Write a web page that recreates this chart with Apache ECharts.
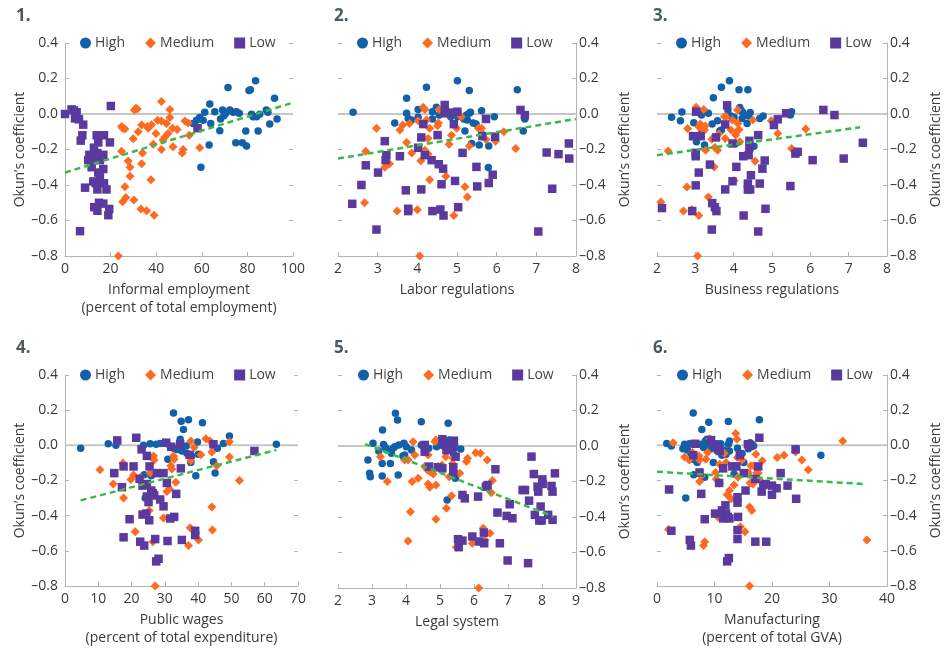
<!DOCTYPE html>
<html><head><meta charset="utf-8">
<script src="https://cdn.jsdelivr.net/npm/echarts@6/dist/echarts.min.js"></script>
<style>html,body{margin:0;padding:0;background:#fff}#c{width:944px;height:648px}</style>
</head><body><div id="c"></div>
<script>
// ---------- DATA ----------
const groupNames = ['High', 'Medium', 'Low'];
const panelTitles = ['1.', '2.', '3.', '4.', '5.', '6.'];
const xAxisNames = ['Informal employment\n(percent of total employment)', 'Labor regulations', 'Business regulations',
  'Public wages\n(percent of total expenditure)', 'Legal system', 'Manufacturing\n(percent of total GVA)'];
const yAxisName = 'Okun’s coefficient';
const xMins = [0, 2, 2, 0, 2, 0];
const xMaxs = [100, 8, 8, 70, 9, 40];
const xSteps = [20, 1, 1, 10, 1, 10];
const yTicks = [-0.8, -0.6, -0.4, -0.2, 0.0, 0.2, 0.4];

const p1High = [[59.6,-0.30],[56.2,-0.053],[57.7,-0.035],[59.1,-0.02],[60.6,-0.035],[61.3,0.01],[63.5,0.057],[63.2,-0.175],[63.9,-0.053],[65.7,0.013],[67.9,-0.094],[68.2,-0.028],[69.1,0.023],[69.7,-0.01],[70.5,0.004],[71.5,0.149],[72.3,0.023],[73.7,0.01],[74.9,-0.162],[75.2,0.013],[76.4,0.004],[77.8,-0.162],[79.3,-0.096],[79.6,-0.18],[80.7,0.132],[81.3,0.136],[81.8,-0.002],[82.5,-0.015],[83.6,0.187],[84,-0.015],[84.7,-0.096],[85.4,-0.002],[88.3,0.023],[89,0.01],[89.8,-0.057],[91.9,0.089],[93,-0.028]];
const p1Medium = [[23.4,-0.8],[24.8,-0.07],[25.3,-0.08],[26.3,-0.085],[24.8,-0.21],[27.7,-0.265],[28.5,-0.30],[28.5,-0.35],[26.3,-0.41],[26.7,-0.47],[25.3,-0.495],[30.2,-0.485],[29.9,-0.14],[30.4,0.022],[31.1,0.032],[31.7,0.028],[32.1,-0.10],[33.3,-0.535],[35.8,-0.545],[39.1,-0.57],[33.6,-0.062],[33.6,-0.28],[34,-0.22],[36.1,-0.07],[36.5,-0.08],[37.9,-0.06],[37.7,-0.37],[38.7,-0.17],[39.9,-0.11],[40.6,-0.035],[42.3,-0.04],[42.3,0.07],[42.3,-0.20],[43,-0.147],[43.8,-0.13],[44.5,-0.053],[45.2,-0.11],[46,0.026],[46,-0.02],[47.2,-0.08],[47.4,-0.185],[49.2,-0.087],[51.4,-0.22],[51.8,-0.20],[52.6,-0.04],[54,-0.05],[54.5,-0.12],[59.1,-0.19]];
const p1Low = [[0,0],[2.9,0.026],[3.9,0.02],[5.1,0.01],[4.4,-0.025],[6.1,-0.03],[8.0,-0.06],[7.6,-0.12],[6.9,-0.15],[20.1,0.045],[13.9,-0.12],[17.1,-0.12],[14.6,-0.16],[19.7,-0.16],[12.7,-0.19],[10.7,-0.23],[14.2,-0.22],[16.8,-0.23],[11.7,-0.24],[10.2,-0.26],[12.4,-0.26],[15.3,-0.26],[11.7,-0.30],[16.8,-0.31],[14.6,-0.33],[15.3,-0.35],[12.4,-0.38],[8.8,-0.415],[14.2,-0.425],[17.1,-0.39],[18.2,-0.425],[12.8,-0.525],[14.2,-0.545],[14.9,-0.50],[16.8,-0.505],[19.4,-0.535],[19,-0.57],[6.6,-0.66],[58.1,-0.08],[13.5,-0.39]];
const p1Trend = [[0,-0.33],[100,0.064]];

const p2High = [[2.38,0.01],[3.43,-0.05],[3.73,0.089],[3.73,0.004],[3.77,-0.025],[3.85,-0.034],[4.02,0.026],[4.02,-0.019],[4.23,0.151],[4.38,0.013],[4.38,-0.028],[4.48,0.038],[4.55,-0.006],[4.84,-0.015],[5.01,0.187],[5.01,-0.015],[5.2,-0.096],[5.24,-0.006],[5.31,0.132],[5.31,0.004],[5.34,0.01],[5.37,-0.166],[5.26,-0.034],[5.41,-0.05],[5.48,-0.057],[5.56,-0.175],[5.62,0.019],[5.79,-0.302],[5.80,-0.18],[5.94,-0.015],[6.52,0.136],[6.67,-0.096],[6.71,-0.028],[5.17,-0.028]];
const p2Medium = [[4.06,-0.8],[2.97,-0.08],[2.70,-0.21],[2.67,-0.50],[3.18,-0.30],[3.30,-0.28],[3.49,-0.547],[3.56,-0.09],[3.63,-0.062],[3.73,-0.16],[3.80,-0.053],[3.86,-0.22],[4.0,-0.54],[4.02,-0.038],[4.09,-0.264],[4.15,0.038],[4.19,0.026],[4.19,-0.204],[4.23,-0.034],[4.27,-0.226],[4.27,-0.138],[4.31,-0.37],[4.31,-0.08],[4.51,-0.066],[4.53,-0.05],[4.55,0.026],[4.72,-0.35],[4.80,-0.17],[4.86,-0.12],[4.92,-0.572],[4.99,-0.08],[5.11,-0.015],[5.2,-0.41],[5.26,-0.468],[5.31,-0.18],[5.54,-0.08],[5.62,-0.08],[5.64,-0.11],[5.73,-0.143],[5.97,-0.153],[6.18,-0.10],[6.48,-0.194]];
const p2Low = [[2.36,-0.506],[2.59,-0.40],[2.70,-0.289],[2.97,-0.651],[3.01,-0.33],[3.18,-0.153],[3.22,-0.232],[3.20,-0.26],[3.56,-0.238],[3.71,-0.43],[3.77,-0.534],[3.77,-0.547],[4.10,-0.425],[4.10,-0.132],[4.15,-0.057],[4.19,-0.232],[4.02,-0.19],[4.36,-0.26],[4.38,-0.547],[4.51,-0.119],[4.54,-0.283],[4.58,-0.538],[4.61,-0.396],[4.65,-0.308],[4.66,-0.572],[4.69,0.051],[4.69,0.004],[4.82,0.008],[4.92,-0.057],[4.95,-0.377],[5.01,0.013],[5.03,-0.525],[5.14,-0.219],[5.49,-0.298],[5.51,-0.408],[5.64,-0.125],[5.73,-0.028],[5.80,-0.389],[5.90,-0.342],[5.96,-0.128],[6.60,0.023],[6.71,-0.006],[7.05,-0.662],[7.26,-0.217],[7.40,-0.421],[7.56,-0.226],[7.82,-0.166],[7.83,-0.251]];
const p2Trend = [[2,-0.251],[8,-0.028]];

const p3High = [[2.38,-0.019],[2.61,-0.038],[2.65,0.011],[2.96,-0.049],[3.03,-0.157],[3.09,0.013],[3.16,-0.006],[3.17,-0.096],[3.24,-0.175],[3.34,0.004],[3.44,-0.057],[3.47,0.092],[3.58,-0.038],[3.64,-0.096],[3.68,0.151],[3.68,-0.09],[3.85,0.023],[3.89,0.187],[3.93,-0.011],[4.01,-0.019],[4.05,-0.166],[4.14,0.136],[4.16,0.036],[4.20,0.019],[4.22,-0.025],[4.24,0.009],[4.35,-0.053],[4.37,0.136],[4.39,-0.011],[4.43,0.009],[4.53,-0.181],[4.68,-0.025],[4.77,-0.011],[5.44,0.004],[5.48,-0.006],[5.51,0.013]];
const p3Medium = [[2.10,-0.496],[2.29,-0.208],[2.69,-0.547],[2.80,-0.081],[2.78,-0.411],[2.91,-0.538],[3.02,0.038],[3.06,-0.8],[3.09,-0.572],[3.09,-0.072],[3.13,-0.057],[3.17,-0.081],[3.22,0.026],[3.24,-0.09],[3.26,-0.068],[3.27,-0.204],[3.34,-0.468],[3.43,-0.142],[3.49,-0.298],[3.51,-0.189],[3.58,-0.204],[3.61,-0.113],[3.76,-0.015],[3.78,-0.138],[3.80,-0.015],[3.93,-0.09],[3.97,-0.034],[4.01,-0.374],[4.05,-0.119],[4.08,-0.10],[4.10,0.023],[4.11,-0.053],[4.14,-0.087],[4.16,-0.157],[4.50,-0.034],[4.56,-0.266],[4.98,-0.038],[5.15,-0.11],[5.51,-0.194],[5.88,-0.085]];
const p3Low = [[2.13,-0.53],[2.92,-0.547],[2.94,-0.125],[3.01,-0.219],[3.01,-0.402],[3.01,-0.238],[3.02,0.013],[3.09,-0.33],[3.14,-0.125],[3.38,-0.285],[3.43,-0.651],[3.44,-0.502],[3.51,-0.525],[3.55,-0.547],[3.54,-0.132],[3.78,-0.425],[3.78,-0.059],[3.83,0.049],[3.97,-0.166],[3.97,-0.379],[4.07,-0.298],[4.25,-0.238],[4.26,-0.572],[4.37,-0.392],[4.37,-0.426],[4.39,-0.232],[4.41,-0.191],[4.41,-0.151],[4.45,-0.345],[4.43,-0.425],[4.64,-0.119],[4.64,-0.662],[4.68,-0.392],[4.75,-0.308],[4.81,-0.262],[4.83,-0.534],[5.05,-0.062],[5.15,-0.03],[5.37,0.004],[5.48,-0.406],[5.61,-0.223],[5.67,-0.213],[6.06,-0.26],[6.34,0.023],[6.63,-0.006],[6.87,-0.251],[7.37,-0.162]];
const p3Trend = [[2,-0.232],[7.3,-0.075]];

const p4High = [[4.7,-0.017],[13.0,0.009],[15.3,0],[23.6,0],[23.8,-0.167],[24.1,-0.30],[25.6,0.009],[25.9,-0.173],[27.4,0.006],[28.6,0.011],[30.6,0.009],[30.9,-0.079],[32.6,0.184],[32.6,-0.017],[33.6,-0.023],[34.6,0.034],[34.9,0.137],[35.1,-0.032],[35.6,0.09],[36.4,-0.004],[36.6,-0.045],[37.1,0.146],[37.8,-0.098],[38.1,-0.06],[39.3,-0.173],[39.8,0.019],[40.1,-0.051],[41.3,0.128],[44.6,-0.094],[45.1,-0.158],[45.8,-0.017],[47.6,0.011],[49.4,0.053],[63.5,0.006]];
const p4Medium = [[10.5,-0.139],[14.5,-0.22],[17.4,-0.101],[17.6,-0.30],[19.8,-0.195],[20.6,-0.169],[21.1,-0.492],[22.6,-0.182],[25.3,-0.37],[25.6,-0.158],[26.6,-0.06],[26.8,-0.083],[26.4,-0.548],[27.1,-0.80],[29.6,-0.413],[30.6,-0.263],[31.4,-0.248],[31.8,-0.116],[32.1,-0.135],[32.6,-0.06],[32.8,-0.079],[33.3,-0.21],[37.1,-0.57],[37.6,-0.469],[37.8,-0.088],[37.8,0.024],[40.1,-0.538],[40.8,-0.054],[42.3,0.038],[44.1,-0.351],[44.1,-0.038],[44.3,-0.482],[45.6,-0.116],[49.4,0.021],[49.4,-0.066],[52.4,-0.2],[43.6,0.024],[38.8,-0.013]];
const p4Low = [[14.8,-0.158],[15.7,0.028],[17.6,-0.12],[17.1,-0.238],[17.6,-0.523],[19.4,-0.42],[20.6,-0.12],[21.4,0.043],[22.4,-0.191],[22.6,-0.548],[23.0,-0.023],[23.3,-0.229],[23.3,-0.394],[23.8,-0.57],[24.4,-0.388],[24.6,-0.06],[24.6,-0.22],[24.6,-0.291],[25.1,-0.323],[25.3,-0.426],[25.4,-0.12],[25.9,-0.257],[26.4,-0.272],[26.8,-0.285],[27.1,-0.533],[27.4,-0.66],[28.1,-0.645],[27.6,-0.158],[28.6,-0.308],[29.6,-0.158],[29.6,-0.347],[30.4,0.015],[30.6,-0.214],[30.8,-0.544],[31.6,-0.416],[31.9,-0.008],[32.8,-0.407],[33.4,-0.276],[34.6,0.006],[34.8,-0.131],[35.1,-0.538],[37.4,-0.054],[39.1,-0.486],[39.1,-0.51],[44.6,0.006],[56.9,-0.032]];
const p4Trend = [[4.7,-0.313],[63.5,-0.026]];

const p5High = [[2.88,-0.079],[2.93,-0.154],[2.95,-0.173],[3.03,0.015],[3.20,-0.028],[3.30,-0.098],[3.30,-0.169],[3.31,0.09],[3.34,0.009],[3.40,-0.008],[3.44,-0.023],[3.54,-0.098],[3.57,-0.041],[3.62,-0.013],[3.67,-0.004],[3.69,0.184],[3.75,0.146],[3.77,-0.163],[3.79,0.006],[3.91,-0.056],[3.94,0.015],[3.96,-0.051],[4.01,-0.004],[4.16,-0.023],[4.45,0.137],[4.45,0.006],[4.67,-0.013],[4.90,-0.004],[5.04,0.006],[5.21,-0.304],[5.24,0.128],[5.27,0.034],[5.34,0.011],[5.39,-0.041],[5.43,0.006],[5.45,-0.182],[5.61,-0.017]];
const p5Medium = [[3.25,-0.06],[3.45,-0.2],[3.96,-0.079],[4.06,-0.079],[4.13,-0.37],[4.18,-0.2],[4.21,0.024],[4.26,-0.051],[4.36,-0.182],[4.06,-0.535],[4.55,-0.116],[4.63,-0.135],[4.65,-0.051],[4.65,-0.214],[4.70,-0.233],[4.70,-0.144],[4.80,-0.158],[4.85,0.024],[4.88,0.034],[4.88,-0.22],[4.88,-0.413],[4.94,-0.116],[5.06,-0.107],[5.17,-0.06],[5.19,-0.351],[5.27,-0.173],[5.34,-0.28],[5.37,-0.098],[5.39,-0.069],[5.48,-0.57],[5.58,-0.154],[5.78,-0.088],[5.81,-0.069],[5.95,-0.548],[6.05,-0.038],[6.19,-0.041],[6.14,-0.80],[6.27,-0.463],[6.39,-0.079],[6.47,-0.492],[6.51,-0.263],[6.54,-0.195],[6.32,-0.529]];
const p5Low = [[4.55,0.006],[4.55,-0.032],[4.68,-0.116],[4.94,-0.12],[5.07,0.038],[5.07,-0.126],[5.14,0.006],[5.19,-0.023],[5.39,-0.12],[5.41,0.03],[5.39,-0.004],[5.46,-0.06],[5.39,-0.158],[5.53,-0.525],[5.55,-0.57],[5.66,-0.533],[5.66,-0.276],[5.73,-0.295],[5.95,-0.51],[6.12,-0.285],[6.15,-0.538],[6.29,-0.488],[6.30,-0.548],[6.35,-0.229],[6.40,-0.22],[6.63,-0.131],[6.69,-0.375],[6.76,-0.548],[6.96,-0.394],[6.99,-0.645],[7.05,-0.328],[7.13,-0.407],[7.43,-0.248],[7.50,-0.248],[7.59,-0.66],[7.62,-0.308],[7.69,-0.06],[7.76,-0.158],[7.79,-0.388],[7.87,-0.229],[7.89,-0.257],[7.92,-0.42],[7.96,-0.341],[7.99,-0.42],[8.01,-0.188],[8.02,-0.214],[8.18,-0.388],[8.28,-0.225],[8.31,-0.257],[8.31,-0.416],[8.38,-0.154]];
const p5Trend = [[2.8,0.011],[8.35,-0.398]];

const p6High = [[1.7,0.011],[2.5,-0.004],[4.5,-0.019],[4.8,0.006],[5.0,-0.30],[5.3,-0.026],[5.6,0.009],[5.9,-0.045],[6.2,-0.079],[6.3,0.184],[6.4,-0.167],[6.8,-0.088],[7.0,-0.098],[7.55,0.006],[7.8,0.09],[8.1,-0.013],[8.3,-0.182],[8.4,0.024],[8.7,0.034],[9.0,0.131],[9.1,0.006],[9.4,-0.019],[9.8,-0.098],[10.1,0],[10.6,-0.013],[11.1,0.009],[11.3,-0.056],[11.6,-0.028],[12.0,-0.051],[12.4,0.135],[12.4,0.006],[12.6,0.024],[12.6,-0.032],[13.4,-0.163],[14.0,-0.017],[14.8,-0.047],[15.1,-0.098],[15.8,-0.158],[15.9,-0.019],[16.2,0.015],[16.5,0.006],[16.8,-0.004],[17.8,0.146],[24.2,-0.019],[28.5,-0.056]];
const p6Medium = [[2.8,0.015],[2.0,-0.478],[4.8,-0.066],[5.6,-0.084],[6.2,-0.041],[7.3,-0.06],[7.4,-0.083],[7.4,-0.206],[7.7,-0.173],[8.1,-0.57],[8.3,-0.548],[8.5,-0.079],[8.8,-0.041],[9.2,0.038],[9.5,0.024],[10.2,-0.154],[10.3,-0.191],[10.6,-0.407],[10.9,-0.107],[10.9,-0.216],[11.7,-0.045],[12.0,-0.098],[12.2,-0.281],[12.6,-0.257],[12.9,-0.304],[13.4,-0.225],[13.7,0.068],[13.9,0.034],[14.0,-0.069],[14.1,-0.182],[14.5,-0.463],[14.8,-0.083],[15.3,-0.492],[15.8,-0.158],[16.1,-0.351],[16.1,-0.80],[16.2,-0.214],[16.3,-0.116],[16.5,-0.37],[16.7,-0.22],[16.8,-0.116],[17.2,-0.051],[17.3,-0.158],[17.6,-0.158],[17.9,-0.2],[18.3,-0.088],[20.9,-0.069],[22.1,-0.056],[24.1,-0.038],[25.2,-0.084],[26.3,-0.139],[32.3,0.024],[36.5,-0.538]];
const p6Low = [[2.1,-0.251],[2.5,-0.486],[5.7,-0.538],[5.9,-0.57],[6.6,0.009],[6.3,-0.056],[7.4,-0.154],[7.7,-0.276],[8.3,-0.42],[9.4,0.03],[10.1,0.006],[10.1,-0.388],[10.6,-0.023],[10.8,-0.214],[10.9,-0.032],[11.3,-0.37],[11.5,-0.416],[11.5,-0.131],[11.9,-0.341],[12.0,-0.388],[12.2,-0.66],[12.3,-0.407],[12.5,-0.641],[12.6,-0.416],[13.1,-0.12],[13.8,-0.12],[14.0,-0.295],[14.0,-0.326],[14.0,-0.482],[14.0,-0.533],[14.1,-0.407],[14.4,-0.056],[15.1,-0.158],[15.4,-0.257],[15.8,0.006],[16.1,-0.004],[17.1,-0.548],[17.1,-0.191],[17.6,-0.12],[17.8,0.043],[18.2,-0.263],[18.5,-0.225],[18.9,-0.22],[19.0,-0.548],[20.0,-0.229],[20.0,-0.281],[20.8,-0.244],[21.5,-0.158],[22.7,-0.229],[24.1,-0.023],[24.2,-0.304]];
const p6Trend = [[0,-0.15],[36,-0.22]];

const highData = [p1High, p2High, p3High, p4High, p5High, p6High];
const mediumData = [p1Medium, p2Medium, p3Medium, p4Medium, p5Medium, p6Medium];
const lowData = [p1Low, p2Low, p3Low, p4Low, p5Low, p6Low];
const trendData = [p1Trend, p2Trend, p3Trend, p4Trend, p5Trend, p6Trend];

// ---------- LAYOUT / STYLE ----------
const FONT = 'Open Sans';
const TXT = '#3a3a3a';
const AX = '#b4b4b4';
const COLORS = { High: '#1160a9', Medium: '#ff6a21', Low: '#5b3a9f' };
const SYMBOLS = { High: 'circle', Medium: 'diamond', Low: 'rect' };
const SIZES = { High: 7.5, Medium: 9, Low: 8.5 };
const grids = [
  { left: 65, top: 43, width: 228, height: 213 },
  { left: 338, top: 43, width: 238, height: 213 },
  { left: 657, top: 43, width: 238, height: 213 },
  { left: 65, top: 375, width: 233, height: 213 },
  { left: 338, top: 375, width: 238, height: 213 },
  { left: 657, top: 375, width: 238, height: 213 }
];
const ySide = ['left', 'right', 'right', 'left', 'right', 'right'];
const legendPos = [[80, 36], [357, 36], [676, 36], [80, 368], [358, 368], [677, 368]];
const titlePos = [[16, 8], [334, 8], [653, 8], [16, 340], [334, 340], [653, 340]];

const fmtY = v => (v < -1e-9 ? '–' : '') + Math.abs(v).toFixed(1);

const option = {
  animation: false,
  backgroundColor: '#fff',
  textStyle: { fontFamily: FONT },
  title: panelTitles.map((t, i) => ({
    text: t, left: titlePos[i][0], top: titlePos[i][1], padding: 0,
    textStyle: { fontFamily: FONT, fontSize: 17, fontWeight: 'bold', color: '#4b5a62' }
  })),
  legend: legendPos.map((p, i) => ({
    data: groupNames.map(n => ({ name: n, icon: SYMBOLS[n] })),
    left: p[0], top: p[1], padding: 0, itemWidth: 11, itemHeight: 11, itemGap: 20,
    selectedMode: false,
    textStyle: { fontFamily: FONT, fontSize: 14, color: '#444', padding: [0, 0, 0, -1] }
  })),
  grid: grids,
  xAxis: grids.map((g, i) => ({
    type: 'value', gridIndex: i, min: xMins[i], max: xMaxs[i], interval: xSteps[i],
    name: xAxisNames[i], nameLocation: 'middle', nameGap: 25,
    nameTextStyle: { fontFamily: FONT, fontSize: 14, color: TXT, lineHeight: 18 },
    axisLine: { show: true, onZero: false, lineStyle: { color: AX, width: 1 } },
    axisTick: { show: true, inside: true, length: 4, lineStyle: { color: AX } },
    axisLabel: { fontFamily: FONT, fontSize: 14, color: TXT, margin: 6 },
    splitLine: { show: false }
  })),
  yAxis: [].concat(
    grids.map((g, i) => ({
      type: 'value', gridIndex: i, position: ySide[i], min: yTicks[0], max: yTicks[yTicks.length - 1], interval: 0.2,
      name: yAxisName, nameLocation: 'middle', nameGap: ySide[i] === 'left' ? 37 : 42, nameRotate: 90,
      nameTextStyle: { fontFamily: FONT, fontSize: 14, color: TXT },
      axisLine: { show: true, onZero: false, lineStyle: { color: AX, width: 1 } },
      axisTick: { show: true, inside: true, length: 4, lineStyle: { color: AX } },
      axisLabel: { fontFamily: FONT, fontSize: 14, color: TXT, margin: ySide[i] === 'left' ? 7 : 3, formatter: fmtY },
      splitLine: { show: false }
    })),
    grids.map((g, i) => ({
      type: 'value', gridIndex: i, position: ySide[i] === 'left' ? 'right' : 'left',
      min: yTicks[0], max: yTicks[yTicks.length - 1], interval: 0.2,
      axisLine: { show: false, onZero: false },
      axisTick: { show: true, inside: true, length: 4, lineStyle: { color: AX } },
      axisLabel: { show: false },
      splitLine: { show: false }
    }))
  ),
  series: []
};

for (let i = 0; i < 6; i++) {
  option.series.push({
    type: 'line', name: 'zero', xAxisIndex: i, yAxisIndex: i, silent: true, symbol: 'none', z: 1,
    data: [[xMins[i], 0], [xMaxs[i], 0]],
    lineStyle: { color: '#c6c6c6', width: 2 }
  });
  const sets = { High: highData[i], Medium: mediumData[i], Low: lowData[i] };
  groupNames.forEach(n => {
    option.series.push({
      type: 'scatter', name: n, xAxisIndex: i, yAxisIndex: i, z: 3,
      symbol: SYMBOLS[n], symbolSize: SIZES[n], data: sets[n],
      itemStyle: { color: COLORS[n], opacity: 1 }
    });
  });
  option.series.push({
    type: 'line', name: 'trend', xAxisIndex: i, yAxisIndex: i, silent: true, symbol: 'none', z: 5,
    data: trendData[i],
    lineStyle: { color: '#3cb84a', width: 2.5, type: [6, 4] }
  });
}

const chart = echarts.init(document.getElementById('c'), null, { renderer: 'canvas' });
chart.setOption(option);
</script>
</body></html>
